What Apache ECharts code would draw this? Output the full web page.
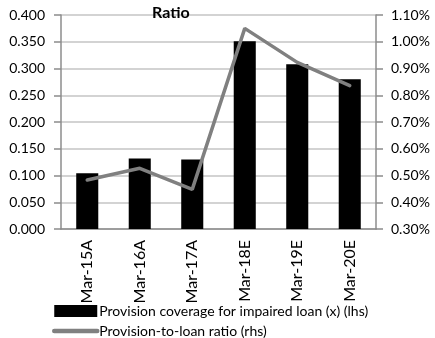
<!DOCTYPE html>
<html>
<head>
<meta charset="utf-8">
<script src="https://cdn.jsdelivr.net/npm/echarts@6/dist/echarts.min.js"></script>
<style>
html,body{margin:0;padding:0;background:#fff;}
#c{width:435px;height:338px;}
</style>
</head>
<body>
<div id="c"></div>
<script>
const categories = ['Mar-15A','Mar-16A','Mar-17A','Mar-18E','Mar-19E','Mar-20E'];
const coverage = [0.104, 0.132, 0.130, 0.351, 0.308, 0.280];
const ratio = [0.483, 0.527, 0.448, 1.050, 0.923, 0.836];
const leftTicks = {min: 0, max: 0.4, interval: 0.05};
const rightTicks = {min: 0.3, max: 1.1, interval: 0.1};
const seriesNames = ['Provision coverage for impaired loan (x) (lhs)', 'Provision-to-loan ratio (rhs)'];
const titleText = 'Ratio';

const font = 'Lato, "Open Sans", sans-serif';
const chart = echarts.init(document.getElementById('c'), null, {renderer: 'canvas'});
chart.setOption({
  animation: false,
  backgroundColor: '#fff',
  textStyle: {fontFamily: font},
  title: {
    text: titleText,
    left: 152, top: 5,
    padding: 0,
    textStyle: {fontFamily: font, fontSize: 16, fontWeight: 'bold', color: '#000'}
  },
  grid: {left: 61, right: 59, top: 15, bottom: 109, containLabel: false},
  legend: {
    orient: 'vertical',
    left: 52, top: 304,
    padding: 0,
    itemWidth: 43, itemHeight: 12, itemGap: 6,
    textStyle: {fontFamily: font, fontSize: 14, color: '#000', padding: [0,0,0,-3]},
    data: [
      {name: seriesNames[0], icon: 'rect'},
      {name: seriesNames[1], itemStyle: {opacity: 0}, lineStyle: {width: 4.5, color: '#808080', cap: 'round'}}
    ]
  },
  xAxis: {
    type: 'category',
    data: categories,
    axisLine: {lineStyle: {color: '#8c8c8c', width: 1.5}},
    axisTick: {show: false},
    axisLabel: {rotate: 90, margin: 11, fontSize: 16, color: '#000', fontFamily: font}
  },
  yAxis: [{
    type: 'value',
    min: leftTicks.min, max: leftTicks.max, interval: leftTicks.interval,
    axisLine: {show: true, lineStyle: {color: '#8c8c8c', width: 1.5}},
    axisTick: {show: true, length: 7, lineStyle: {color: '#8c8c8c', width: 1.5}},
    splitLine: {lineStyle: {color: '#c4c4c4', width: 1.5}},
    axisLabel: {margin: 16, fontSize: 14, color: '#000', fontFamily: font,
      formatter: v => v.toFixed(3)}
  }, {
    type: 'value',
    position: 'right',
    min: rightTicks.min, max: rightTicks.max, interval: rightTicks.interval,
    axisLine: {show: true, lineStyle: {color: '#8c8c8c', width: 1.5}},
    axisTick: {show: true, length: 7, lineStyle: {color: '#8c8c8c', width: 1.5}},
    splitLine: {show: false},
    axisLabel: {margin: 15, fontSize: 14, color: '#000', fontFamily: font,
      formatter: v => v.toFixed(2) + '%'}
  }],
  series: [{
    name: seriesNames[0],
    type: 'bar',
    yAxisIndex: 0,
    data: coverage,
    barWidth: '42%',
    itemStyle: {color: '#000'}
  }, {
    name: seriesNames[1],
    type: 'line',
    yAxisIndex: 1,
    data: ratio,
    symbol: 'none',
    lineStyle: {color: '#808080', width: 3.5, cap: 'round'},
    itemStyle: {color: '#808080'}
  }]
});
</script>
</body>
</html>
